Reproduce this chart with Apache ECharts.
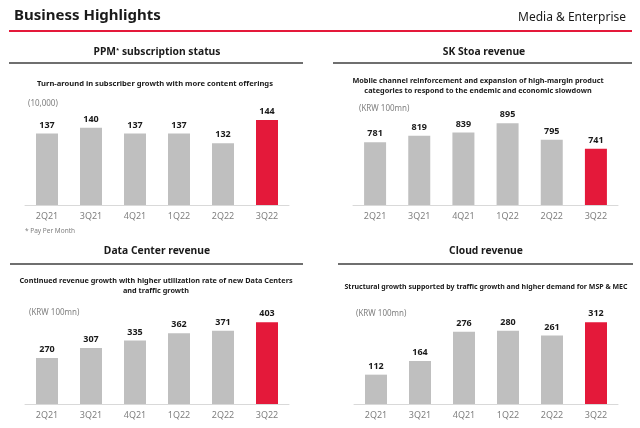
<!DOCTYPE html>
<html><head><meta charset="utf-8">
<script src="https://cdn.jsdelivr.net/npm/echarts@6/dist/echarts.min.js"></script>
<style>html,body{margin:0;padding:0;background:#fff}#c{width:640px;height:428px}</style>
</head><body><div id="c"></div>
<script>
const categories = ['2Q21','3Q21','4Q21','1Q22','2Q22','3Q22'];
const ppmValues = [137,140,137,137,132,144];
const stoaValues = [781,819,839,895,795,741];
const dcValues = [270,307,335,362,371,403];
const cloudValues = [112,164,276,280,261,312];

const FONT = '"Noto Sans", sans-serif';
const GRAY = '#BFBFBF', RED = '#E4193A';

function mk(vals){
  return vals.map((v,i)=>({value:v,itemStyle:{color: i===vals.length-1?RED:GRAY}}));
}
const grids = [
  {left:25, top:89, width:264, height:116},
  {left:353, top:106, width:265, height:99},
  {left:25, top:309.5, width:264, height:94.5},
  {left:354, top:312.3, width:264, height:91.7}
];
const yr = [[100,160],[400,1000],[100,450],[0,350]];
const data = [ppmValues, stoaValues, dcValues, cloudValues];

const chart = echarts.init(document.getElementById('c'), null, {renderer:'canvas'});
const txt = (x,y,text,size,weight,color,align)=>({type:'text',x:x,y:y,
  style:{text:text,fontSize:size,fontWeight:weight||'normal',fill:color||'#1a1a1a',fontFamily:FONT,
  textAlign:align||'center',textVerticalAlign:'middle',lineHeight:size+2.5}});
const line = (x1,y1,x2,y2,color,w)=>({type:'line',shape:{x1,y1,x2,y2},style:{stroke:color,lineWidth:w}});
const TS = 10.3, SS = 7.3;

chart.setOption({
  animation:false,
  textStyle:{fontFamily:FONT},
  grid: grids,
  xAxis: grids.map((g,i)=>({gridIndex:i,type:'category',data:categories,
    axisLine:{lineStyle:{color:'#D9D9D9',width:1}},axisTick:{show:false},
    axisLabel:{color:'#7F7F7F',fontSize:9,margin:7,fontFamily:FONT}})),
  yAxis: grids.map((g,i)=>({gridIndex:i,type:'value',min:yr[i][0],max:yr[i][1],show:false,splitLine:{show:false}})),
  series: data.map((d,i)=>({type:'bar',xAxisIndex:i,yAxisIndex:i,data:mk(d),barWidth:22,
    label:{show:true,position:'top',distance:4,fontSize:9,fontWeight:'bold',color:'#1a1a1a',fontFamily:FONT}})),
  graphic:[
    txt(14,16,'Business Highlights',15,'bold','#1a1a1a','left'),
    txt(626,18,'Media & Enterprise',12,'normal','#1a1a1a','right'),
    line(9,31,632,31,'#E4193A',2),
    {type:'text',x:157,y:52,style:{rich:{a:{fontSize:TS,fontWeight:'bold',fill:'#1a1a1a',fontFamily:FONT},s:{fontSize:6,fontWeight:'bold',fill:'#1a1a1a',fontFamily:FONT,verticalAlign:'top'}},
      text:'{a|PPM}{s|*}{a| subscription status}',textAlign:'center',textVerticalAlign:'middle'}},
    line(9,63,303,63,'#6F6F6F',2),
    txt(155,84,'Turn-around in subscriber growth with more content offerings',7.6,'bold'),
    txt(28,104,'(10,000)',8,'normal','#7F7F7F','left'),
    txt(25,231,'* Pay Per Month',6.5,'normal','#7F7F7F','left'),
    txt(484,52,'SK Stoa revenue',TS,'bold'),
    line(333,63,632,63,'#6F6F6F',2),
    txt(478,86,'Mobile channel reinforcement and expansion of high-margin product\ncategories to respond to the endemic and economic slowdown',SS,'bold'),
    txt(359,109,'(KRW 100mn)',8,'normal','#7F7F7F','left'),
    txt(157,251,'Data Center revenue',TS,'bold'),
    line(10,264,303,264,'#6F6F6F',2),
    txt(156,286,'Continued revenue growth with higher utilization rate of new Data Centers\nand traffic growth',SS,'bold'),
    txt(29,313,'(KRW 100mn)',8,'normal','#7F7F7F','left'),
    txt(486,251,'Cloud revenue',TS,'bold'),
    line(338,264,633,264,'#6F6F6F',2),
    txt(486,287,'Structural growth supported by traffic growth and higher demand for MSP & MEC',7,'bold'),
    txt(356,314,'(KRW 100mn)',8,'normal','#7F7F7F','left')
  ]
});
</script></body></html>
